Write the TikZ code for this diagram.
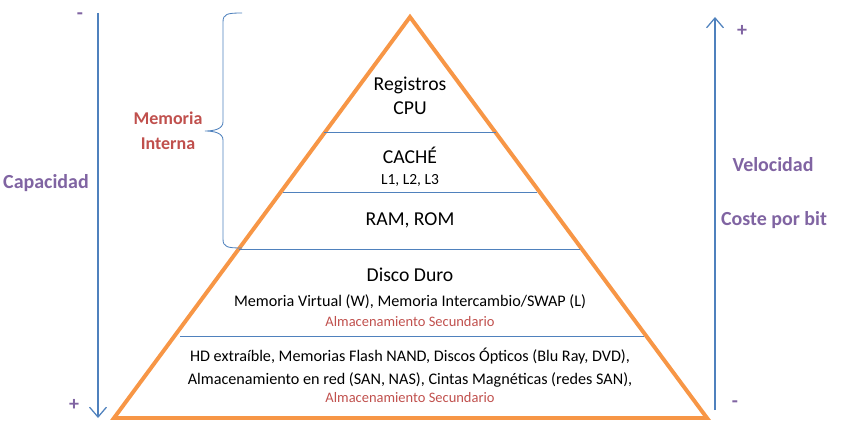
\documentclass[tikz,border=0pt]{standalone}
\usepackage{fontspec}
\setmainfont{Carlito}
\usetikzlibrary{arrows.meta}
\definecolor{piramide}{HTML}{F79646}
\definecolor{linea}{HTML}{4F81BD}
\definecolor{rojo}{HTML}{C0504D}
\definecolor{morado}{HTML}{8064A2}

\begin{document}
\begin{tikzpicture}[x=0.025cm, y=-0.025cm,
  nivel/.style = {font=\fontsize{14}{16}\selectfont},
  detalle/.style = {font=\fontsize{11.5}{13}\selectfont},
  secundario/.style = {font=\fontsize{10.3}{12}\selectfont, text=rojo},
  eje/.style = {font=\bfseries\fontsize{14.2}{16}\selectfont, text=morado},
  flecha/.style = {draw=linea, line width=0.9pt, -{Straight Barb[length=7pt,width=12pt]}},
  separa/.style = {draw=linea, line width=0.6pt}]
\useasboundingbox (0,0) rectangle (846,438);
% piramide
\coordinate (cima) at (410,17);
\coordinate (baseI) at (114,418);
\coordinate (baseD) at (707,418);
\draw[piramide, line width=2.8pt] (cima) -- (baseD) -- (baseI) -- cycle;
% separaciones
\coordinate (s1i) at (324,132); \coordinate (s1d) at (496,132);
\coordinate (s2i) at (283,192); \coordinate (s2d) at (537,192);
\coordinate (s3i) at (239,249); \coordinate (s3d) at (580,249);
\coordinate (s4i) at (180,336); \coordinate (s4d) at (644,336);
\draw[separa] (s1i) -- (s1d);
\draw[separa] (s2i) -- (s2d);
\draw[separa] (s3i) -- (s3d);
\draw[separa] (s4i) -- (s4d);
% niveles
\node[nivel] (reg) at (410,85) {Registros};
\node[nivel] (cpu) at (410,108) {CPU};
\node[nivel] (cache) at (410,155) {CACHÉ};
\node[font=\fontsize{11}{13}\selectfont] (l123) at (410,180) {L1, L2, L3};
\node[nivel] (ram) at (410,220) {RAM, ROM};
\node[nivel] (disco) at (410,275) {Disco Duro};
\node[detalle] (virt) at (410,302) {Memoria Virtual (W), Memoria Intercambio/SWAP (L)};
\node[secundario] (sec1) at (410,322) {Almacenamiento Secundario};
\node[detalle] (hd) at (410,356) {HD extraíble, Memorias Flash NAND, Discos Ópticos (Blu Ray, DVD),};
\node[detalle] (red) at (410,380) {Almacenamiento en red (SAN, NAS), Cintas Magnéticas (redes SAN),};
\node[secundario] (sec2) at (410,398) {Almacenamiento Secundario};
% memoria interna
\draw[linea, line width=0.6pt] (242,13) .. controls (227,13) and (223,14) .. (223,22)
  -- (223,122) .. controls (223,129) and (214,131) .. (205,131)
  .. controls (214,131) and (223,133) .. (223,140)
  -- (223,239) .. controls (223,247) and (227,248) .. (242,248);
\node[font=\bfseries\fontsize{12.8}{17.7}\selectfont, text=rojo, align=center] (interna) at (168,131) {Memoria\\Interna};
% capacidad
\coordinate (capA) at (98,13);
\coordinate (capB) at (98,418);
\draw[flecha] (capA) -- (capB);
\node[eje] (cap) at (46,183) {Capacidad};
\node[eje] (capMenos) at (80,16) {-};
\node[eje] (capMas) at (74,405) {+};
% velocidad
\coordinate (velA) at (715,410);
\coordinate (velB) at (715,17);
\draw[flecha] (velA) -- (velB);
\node[eje] (vel) at (773,165) {Velocidad};
\node[eje] (coste) at (774,220) {Coste por bit};
\node[eje] (velMas) at (742,31) {+};
\node[eje] (velMenos) at (735,404) {-};
\end{tikzpicture}
\end{document}
